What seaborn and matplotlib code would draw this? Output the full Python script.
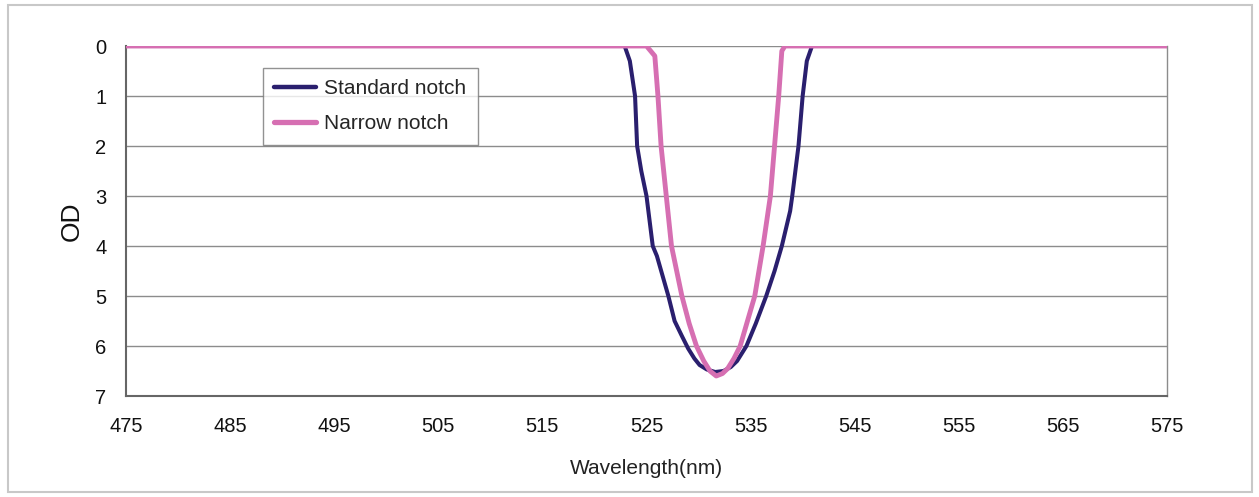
import matplotlib
matplotlib.use("Agg")
import matplotlib.pyplot as plt
import seaborn as sns
import pandas as pd
from matplotlib.patches import Rectangle

# ---- data ----
std_wl = [475, 522.9, 523.4, 523.9, 524.1, 524.5, 525.0, 525.6, 526.0, 527.1, 527.7,
          528.4, 529.0, 529.6, 530.1, 530.8, 531.6, 532.4, 533.1, 533.7, 534.6, 535.5,
          536.5, 537.3, 538.0, 538.8, 539.0, 539.6, 540.0, 540.4, 540.9, 575]
std_od = [0, 0, 0.3, 1.0, 2.0, 2.5, 3.0, 4.0, 4.2, 5.0, 5.5,
          5.8, 6.05, 6.25, 6.38, 6.47, 6.52, 6.5, 6.42, 6.3, 6.0, 5.55,
          5.0, 4.5, 4.0, 3.3, 3.0, 2.0, 1.0, 0.3, 0, 0]

nar_wl = [475, 525.0, 525.8, 526.1, 526.4, 526.9, 527.4, 528.4, 529.1, 529.8, 530.5,
          531.1, 531.7, 532.3, 532.8, 533.4, 534.0, 535.4, 536.2, 536.9, 537.3,
          537.7, 538.0, 538.3, 575]
nar_od = [0, 0, 0.2, 1.0, 2.0, 3.0, 4.0, 5.0, 5.55, 6.0, 6.3,
          6.5, 6.6, 6.55, 6.45, 6.25, 6.0, 5.0, 4.0, 3.0, 2.0,
          1.0, 0.1, 0, 0]

x_ticks = [475, 485, 495, 505, 515, 525, 535, 545, 555, 565, 575]
y_ticks = [0, 1, 2, 3, 4, 5, 6, 7]
series_names = ["Standard notch", "Narrow notch"]
colors = ["#2a1f6e", "#d66fb2"]

sns.set_theme(style="white")
plt.rcParams['font.family'] = ['Liberation Sans', 'DejaVu Sans']

fig = plt.figure(figsize=(12.59, 4.97), dpi=100)
fig.patch.set_facecolor("white")
fig.patches.append(Rectangle((8/1259, 5/497), (1252-8)/1259, (492-5)/497,
                             transform=fig.transFigure, fill=False,
                             edgecolor="#c8c8c8", linewidth=1.5))

ax = fig.add_axes([126/1259, 1-396/497, (1167-126)/1259, (396-46)/497])

df_std = pd.DataFrame({"wl": std_wl, "od": std_od})
df_nar = pd.DataFrame({"wl": nar_wl, "od": nar_od})
sns.lineplot(data=df_std, x="wl", y="od", ax=ax, color=colors[0], linewidth=2.9,
             sort=False, estimator=None, label=series_names[0], zorder=3)
sns.lineplot(data=df_nar, x="wl", y="od", ax=ax, color=colors[1], linewidth=3.5,
             sort=False, estimator=None, label=series_names[1], zorder=4)

ax.set_xlim(475, 575)
ax.set_ylim(7, 0)
ax.set_xticks(x_ticks)
ax.set_yticks(y_ticks)
ax.set_xticklabels([str(t) for t in x_ticks], fontsize=14.5)
ax.set_yticklabels([str(t) for t in y_ticks], fontsize=14.5)
ax.yaxis.grid(True, color="#8c8c8c", linewidth=1.0)
ax.xaxis.grid(False)
ax.set_axisbelow(True)

for s in ["left", "bottom"]:
    ax.spines[s].set_color("#666666")
    ax.spines[s].set_linewidth(1.5)
ax.spines["right"].set_color("#8c8c8c")
ax.spines["right"].set_linewidth(1.0)
ax.spines["top"].set_visible(False)

ax.tick_params(axis="both", which="both", direction="out", length=4, width=1,
               color="#666666", labelcolor="#111111")
ax.tick_params(axis="x", pad=11)
ax.tick_params(axis="y", pad=10)

ax.set_xlabel("Wavelength(nm)", fontsize=15, color="#222222", labelpad=17)
ax.set_ylabel("OD", fontsize=19, color="#111111", labelpad=8)

leg = ax.legend(loc="upper left", bbox_to_anchor=((263-126)/1041, 1 - (68-46)/350),
                borderaxespad=0, frameon=True, fontsize=15, handlelength=2.0,
                borderpad=0.55, labelspacing=0.75, handletextpad=0.4, fancybox=False)
leg.get_frame().set_edgecolor("#777777")
leg.get_frame().set_linewidth(1.0)
for line, lw in zip(leg.get_lines(), [3.2, 3.8]):
    line.set_linewidth(lw)

fig.savefig("out.png", dpi=100, facecolor="white")
